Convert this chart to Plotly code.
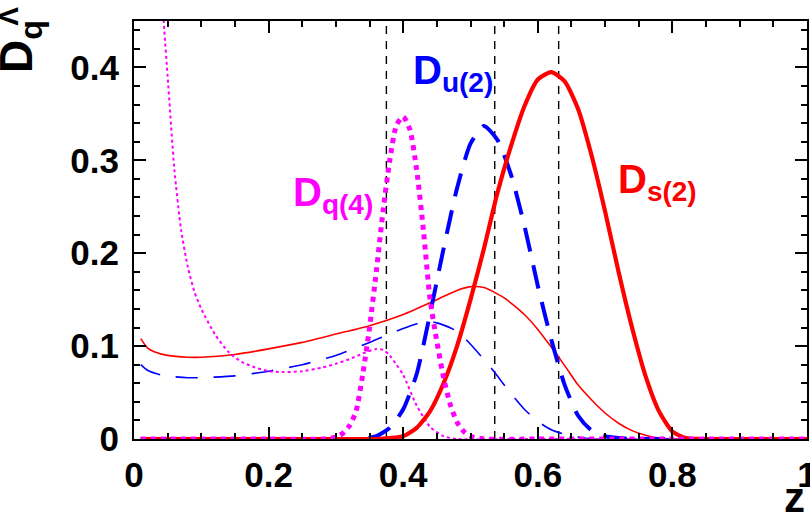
import plotly.graph_objects as go

# ---------------- data ----------------
z_s2 = [0.01, 0.1, 0.2, 0.3, 0.36, 0.38, 0.40, 0.42, 0.44, 0.46, 0.48, 0.50, 0.52, 0.54, 0.56, 0.58, 0.60,
        0.62, 0.64, 0.66, 0.68, 0.70, 0.72, 0.74, 0.76, 0.78, 0.80, 0.82, 0.84, 0.9, 1.0]
d_s2 = [0.0, 0.0, 0.0, 0.0, 0.0, 0.001, 0.003, 0.012, 0.03, 0.06, 0.10, 0.15, 0.205, 0.265, 0.315, 0.358, 0.387,
        0.395, 0.385, 0.355, 0.305, 0.245, 0.18, 0.12, 0.068, 0.03, 0.008, 0.001, 0.0, 0.0, 0.0]

z_s2_all = [0.01, 0.02, 0.03, 0.05, 0.08, 0.10, 0.15, 0.20, 0.25, 0.30, 0.35, 0.40, 0.45, 0.48, 0.50, 0.52, 0.55,
            0.58, 0.60, 0.62, 0.64, 0.66, 0.68, 0.70, 0.72, 0.74, 0.76, 0.78, 0.80, 0.9, 1.0]
d_s2_all = [0.108, 0.098, 0.094, 0.090, 0.088, 0.088, 0.091, 0.097, 0.104, 0.113, 0.122, 0.134, 0.150, 0.160,
            0.164, 0.163, 0.152, 0.134, 0.118, 0.099, 0.079, 0.058, 0.042, 0.028, 0.017, 0.009, 0.004, 0.001,
            0.0, 0.0, 0.0]

z_u2 = [0.01, 0.1, 0.2, 0.3, 0.34, 0.36, 0.38, 0.40, 0.42, 0.44, 0.46, 0.48, 0.50, 0.52, 0.54, 0.56, 0.58, 0.60,
        0.62, 0.64, 0.66, 0.68, 0.70, 0.72, 0.74, 0.8, 0.9, 1.0]
d_u2 = [0.0, 0.0, 0.0, 0.0, 0.0, 0.003, 0.012, 0.032, 0.07, 0.135, 0.205, 0.27, 0.318, 0.337, 0.322, 0.285,
        0.23, 0.165, 0.107, 0.058, 0.025, 0.009, 0.003, 0.001, 0.0, 0.0, 0.0, 0.0]

z_u2_all = [0.01, 0.02, 0.04, 0.06, 0.08, 0.10, 0.15, 0.20, 0.25, 0.30, 0.35, 0.40, 0.43, 0.45, 0.48, 0.50,
            0.53, 0.56, 0.58, 0.60, 0.62, 0.64, 0.66, 0.68, 0.8, 0.9, 1.0]
d_u2_all = [0.080, 0.074, 0.069, 0.067, 0.066, 0.066, 0.068, 0.073, 0.080, 0.090, 0.104, 0.119, 0.126, 0.125,
            0.116, 0.102, 0.077, 0.049, 0.032, 0.019, 0.010, 0.005, 0.002, 0.0, 0.0, 0.0, 0.0]

z_q4 = [0.01, 0.1, 0.2, 0.28, 0.30, 0.31, 0.32, 0.33, 0.34, 0.35, 0.36, 0.37, 0.38, 0.39, 0.40, 0.41, 0.42,
        0.43, 0.44, 0.45, 0.46, 0.47, 0.48, 0.49, 0.50, 0.52, 0.6, 0.8, 1.0]
d_q4 = [0.0, 0.0, 0.0, 0.0, 0.002, 0.006, 0.014, 0.03, 0.07, 0.12, 0.18, 0.245, 0.30, 0.338, 0.347, 0.333, 0.29,
        0.225, 0.15, 0.105, 0.066, 0.037, 0.018, 0.008, 0.003, 0.0, 0.0, 0.0, 0.0]

z_q4_all = [0.02, 0.03, 0.04, 0.045, 0.05, 0.06, 0.07, 0.08, 0.09, 0.10, 0.12, 0.14, 0.16, 0.18, 0.20, 0.22,
            0.25, 0.28, 0.30, 0.32, 0.34, 0.36, 0.37, 0.38, 0.39, 0.40, 0.42, 0.44, 0.46, 0.48, 0.6, 0.8, 1.0]
d_q4_all = [1.0, 0.7, 0.50, 0.44, 0.39, 0.29, 0.225, 0.185, 0.158, 0.14, 0.113, 0.094, 0.083, 0.077, 0.073,
            0.072, 0.073, 0.077, 0.081, 0.086, 0.092, 0.097, 0.096, 0.09, 0.08, 0.069, 0.036, 0.013, 0.003, 0.0,
            0.0, 0.0, 0.0]

vlines_z = [0.375, 0.536, 0.631]

x_ticks = [0, 0.2, 0.4, 0.6, 0.8, 1.0]
x_ticklabels = ["0", "0.2", "0.4", "0.6", "0.8", "1"]
y_ticks = [0, 0.1, 0.2, 0.3, 0.4]
y_ticklabels = ["0", "0.1", "0.2", "0.3", "0.4"]

RED = "#ff0000"
BLUE = "#0000ff"
MAG = "#ff00ff"
FONT = "Liberation Sans, Arial, Helvetica, sans-serif"

fig = go.Figure()

# vertical dashed reference lines
for zv in vlines_z:
    fig.add_trace(go.Scatter(x=[zv, zv], y=[0, 0.45], mode="lines",
                             line=dict(color="black", width=1.4, dash="8px,7px"),
                             showlegend=False, hoverinfo="skip"))

def add(z, d, color, width, dash):
    fig.add_trace(go.Scatter(x=z, y=d, mode="lines",
                             line=dict(color=color, width=width, dash=dash, shape="spline", smoothing=0.6),
                             showlegend=False))

add(z_s2_all, d_s2_all, RED, 1.6, "solid")
add(z_u2_all, d_u2_all, BLUE, 1.6, "22px,16px")
add(z_q4_all, d_q4_all, MAG, 2, "3px,3px")
add(z_u2, d_u2, BLUE, 4, "24px,14px")
add(z_s2, d_s2, RED, 4.2, "solid")
add(z_q4, d_q4, MAG, 5, "5px,5px")

tickfont = dict(family=FONT, size=35, color="black", weight="bold")

fig.update_xaxes(range=[0, 1], tickvals=x_ticks, ticktext=x_ticklabels, ticks="inside", ticklen=12,
                 tickwidth=2, tickcolor="black", showline=True, linewidth=2, linecolor="black",
                 mirror="ticks", showgrid=False, zeroline=False, tickfont=tickfont, automargin=False,
                 ticklabelstandoff=4, ticklabeloverflow="allow",
                 minor=dict(dtick=0.05, ticks="inside", ticklen=6, tickwidth=2, tickcolor="black",
                            showgrid=False))
fig.update_yaxes(range=[0, 0.45], tickvals=y_ticks, ticktext=y_ticklabels, ticks="inside", ticklen=12,
                 tickwidth=2, tickcolor="black", showline=True, linewidth=2, linecolor="black",
                 mirror="ticks", showgrid=False, zeroline=False, tickfont=tickfont, automargin=False,
                 ticklabelstandoff=6, ticklabeloverflow="allow",
                 minor=dict(dtick=0.02, ticks="inside", ticklen=6, tickwidth=2, tickcolor="black",
                            showgrid=False))

ann_font = dict(family=FONT, size=40, weight="bold")
annotations = [
    dict(text="D<sub>u(2)</sub>", x=0.412, y=0.423, xref="x", yref="y", xanchor="left", yanchor="top",
         showarrow=False, font=dict(ann_font, color=BLUE)),
    dict(text="D<sub>s(2)</sub>", x=0.716, y=0.306, xref="x", yref="y", xanchor="left", yanchor="top",
         showarrow=False, font=dict(ann_font, color=RED)),
    dict(text="D<sub>q(4)</sub>", x=0.233, y=0.2915, xref="x", yref="y", xanchor="left", yanchor="top",
         showarrow=False, font=dict(ann_font, color=MAG)),
    # y-axis title: D_q with the Lambda superscript placed just after it
    dict(text="D<sub>q</sub>", x=-0.217, y=0.871, xref="paper", yref="paper", xanchor="left",
         yanchor="bottom", showarrow=False, textangle=-90,
         font=dict(family=FONT, size=46, color="black", weight="bold")),
    dict(text="Λ", x=-0.186, y=1.012, xref="paper", yref="paper", xanchor="center",
         yanchor="middle", showarrow=False, textangle=-90,
         font=dict(family=FONT, size=28, color="black", weight="bold")),
    dict(text="z", x=1.0, y=-0.08, xref="paper", yref="paper", xanchor="right", yanchor="top",
         showarrow=False, font=dict(family=FONT, size=42, color="black", weight="bold")),
]

fig.update_layout(width=810, height=521, margin=dict(l=134, r=3, t=21, b=82),
                  plot_bgcolor="white", paper_bgcolor="white", annotations=annotations,
                  showlegend=False)

fig.write_html("out.html", config={"displayModeBar": False},
               post_script="document.body.style.margin='0px';")
